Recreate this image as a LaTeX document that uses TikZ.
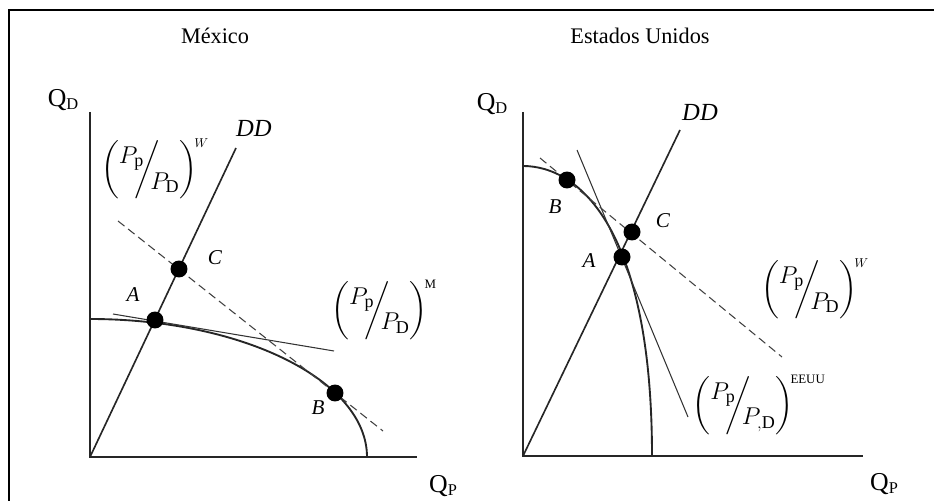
\documentclass[tikz,border=0pt]{standalone}
\usepackage{fontspec}
\setmainfont{Liberation Serif}
\usepackage{amsmath}
\newcommand{\pratio}[2]{$\biggl(\raisebox{0.5em}{$P_{\mathrm{p}}$}\mkern-7mu\bigg/\mkern-7mu\raisebox{-0.5em}{$P_{\mathrm{#1}}$}\biggr)^{\!#2}$}
\newcommand{\qlab}[1]{Q\raisebox{-0.12em}{\fontsize{14}{14}\selectfont #1}}

\begin{document}
\begin{tikzpicture}[x=0.3mm, y=-0.3mm,
    frame/.style={draw=black, line width=1.5pt},
    axis/.style={draw=black!85, line width=1.3pt},
    ppf/.style={draw=black!85, line width=1.6pt},
    ddl/.style={draw=black!85, line width=1.4pt},
    tang/.style={draw=black!80, line width=0.9pt},
    price/.style={draw=black!75, line width=0.9pt, dash pattern=on 7pt off 4pt},
    dot/.style={circle, fill=black, inner sep=0pt, minimum size=14.5pt},
    ttl/.style={font=\fontsize{19}{21}\selectfont},
    pt/.style={font=\fontsize{18}{20}\selectfont\itshape},
    ddlab/.style={font=\fontsize{21}{23}\selectfont\itshape},
    qax/.style={font=\fontsize{22}{24}\selectfont},
    frac/.style={font=\fontsize{22}{25}\selectfont, inner sep=0pt}]
  \useasboundingbox (0,0) rectangle (934,501);
  \draw[frame] (9,501) -- (9,10) -- (934,10);

  % ---------- (1) Mexico ---------------------------------------------------
  \node[ttl] (t1) at (215,36) {México};
  \coordinate (O1) at (90,457);
  \coordinate (Y1) at (90,112);
  \coordinate (X1) at (417,457);
  \coordinate (P1) at (90,319);
  \coordinate (DDa) at (236,148);
  \coordinate (Da) at (118,221);
  \coordinate (Db) at (383,431);
  \coordinate (Ta) at (113,314);
  \coordinate (Tb) at (334,351);
  \draw[axis] (Y1) -- (O1) -- (X1);
  \draw[ppf] (P1) arc[start angle=-90, end angle=0, x radius=277, y radius=138];
  \draw[tang] (Ta) -- (Tb);
  \draw[price] (Da) -- (Db);
  \draw[ddl] (O1) -- (DDa);
  \node[dot] (A1) at (155,320) {};
  \node[dot] (C1) at (179,269) {};
  \node[dot] (B1) at (335,393) {};
  \node[pt] (lA1) at (133,295) {A};
  \node[pt] (lC1) at (215,258) {C};
  \node[pt] (lB1) at (318,408) {B};
  \node[ddlab] (dd1) at (254,128) {DD};
  \node[qax] (qd1) at (63,100) {\qlab{D}};
  \node[qax] (qp1) at (443,486) {\qlab{P}};
  \node[frac] (w1) at (155,169) {\pratio{D}{\scriptscriptstyle W}};
  \node[frac] (m1) at (384,310) {\pratio{D}{\scriptscriptstyle\mathrm{M}}};

  % ---------- (2) Estados Unidos ------------------------------------------
  \node[ttl] (t2) at (640,36) {Estados Unidos};
  \coordinate (O2) at (523,456);
  \coordinate (Y2) at (523,112);
  \coordinate (X2) at (863,456);
  \coordinate (P2) at (523,166);
  \coordinate (Q2) at (652,456);
  \coordinate (DDb) at (680,130);
  \coordinate (Dc) at (540,158);
  \coordinate (Dd) at (782,357);
  \coordinate (Tc) at (577,150);
  \coordinate (Td) at (688,417);
  \draw[axis] (Y2) -- (O2) -- (X2);
  \draw[ppf] (P2) .. controls (580,166) and (652,230) .. (Q2);
  \draw[tang] (Tc) -- (Td);
  \draw[price] (Dc) -- (Dd);
  \draw[ddl] (O2) -- (DDb);
  \node[dot] (B2) at (567,180) {};
  \node[dot] (A2) at (622,257) {};
  \node[dot] (C2) at (632,232) {};
  \node[pt] (lB2) at (555,207) {B};
  \node[pt] (lA2) at (589,261) {A};
  \node[pt] (lC2) at (663,221) {C};
  \node[ddlab] (dd2) at (700,112) {DD};
  \node[qax] (qd2) at (492,104) {\qlab{D}};
  \node[qax] (qp2) at (884,484) {\qlab{P}};
  \node[frac] (w2) at (815,289) {\pratio{D}{\scriptscriptstyle W}};
  \node[frac] (e2) at (759,405) {\pratio{,D}{\scriptscriptstyle\mathrm{EEUU}}};
\end{tikzpicture}
\end{document}
